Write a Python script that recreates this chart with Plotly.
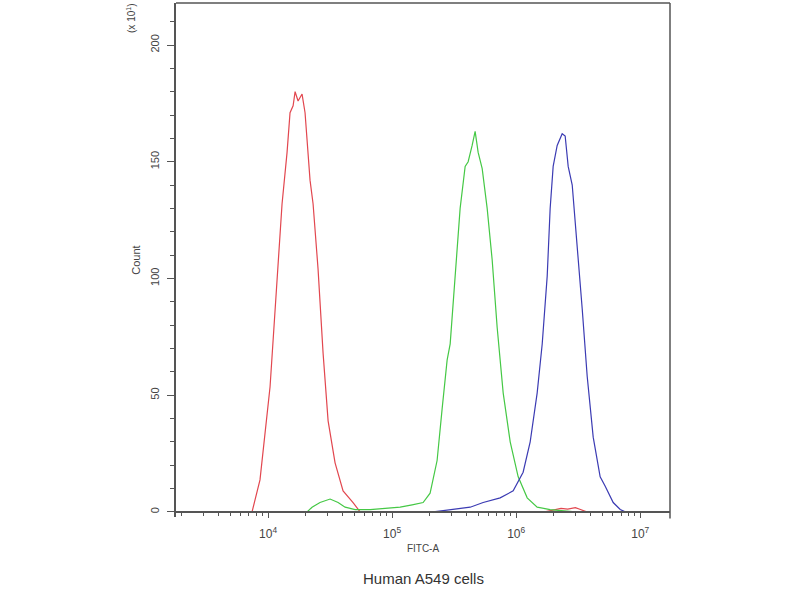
import plotly.graph_objects as go

# ---- data (FITC-A intensity vs count in units of 10^1) ----
red_x = [7430, 8610, 10380, 11830, 12970, 14230, 15040, 15920, 16520, 17460, 18800,
         19870, 21810, 23060, 25300, 27770, 30480, 34690, 40250, 48450, 55200,
         None, 1700000, 2000000, 2300000, 2600000, 3000000, 3300000, 3700000]
red_y = [0, 13.7, 53.6, 98, 132, 154, 171, 174, 180, 176, 179,
         171, 142, 132, 104, 68, 39, 21, 9, 4, 0,
         None, 0, 0.8, 1.5, 1.2, 1.8, 1, 0]

green_x = [20650, 22630, 26230, 31620, 36700, 41790, 50330, 66500, 87850, 116100,
           145000, 177800, 202400, 230500, 252900, 277600, 293800, 322300, 353400,
           387900, 410200, 441700, 466900, 493800, 532200, 583800, 640500, 702800,
           785700, 895000, 1038000, 1227000, 1477000, 1879000, 2483000, 2990000]
green_y = [0, 2, 4, 5.5, 4, 2, 1, 1, 1.5, 2,
           3, 4, 8, 22, 44, 65, 72, 101, 130,
           148, 150, 157, 163, 154, 147, 130, 108, 79,
           51, 30, 15, 6, 2, 1, 0.5, 0]

blue_x = [214400, 310600, 425800, 541900, 743000, 946000, 1138000, 1297000, 1477000,
          1622000, 1779000, 1879000, 1987000, 2141000, 2349000, 2483000, 2626000,
          2830000, 3105000, 3406000, 3738000, 4178000, 4754000, 5222000, 6056000,
          6900000, 7570000]
blue_y = [0, 1, 2, 4, 6, 9, 17, 30, 51,
          72, 101, 130, 148, 157, 162, 161, 148,
          140, 115, 87, 58, 32, 15, 11, 4,
          1, 0]

x_tick_vals = [1e4, 1e5, 1e6, 1e7]
x_tick_text = ["10<sup>4</sup>", "10<sup>5</sup>", "10<sup>6</sup>", "10<sup>7</sup>"]
y_tick_vals = [0, 50, 100, 150, 200]

x_title = "FITC-A"
y_title = "Count"
y_unit = "(x 10<sup>1</sup>)"
chart_title = "Human A549 cells"

# ---- figure ----
AX = "#555555"
TXT = "#444444"
FONT = "Liberation Sans"

fig = go.Figure()
fig.add_trace(go.Scatter(x=red_x, y=red_y, mode="lines", connectgaps=False,
                         line=dict(color="#e2474f", width=1.2), showlegend=False))
fig.add_trace(go.Scatter(x=green_x, y=green_y, mode="lines",
                         line=dict(color="#45c845", width=1.2), showlegend=False))
fig.add_trace(go.Scatter(x=blue_x, y=blue_y, mode="lines",
                         line=dict(color="#3b3bb3", width=1.2), showlegend=False))

minor_x = [m * 10 ** k for k in range(3, 7) for m in range(2, 10)]

W, H = 800, 600
L, R, T, B = 176, 670, 3, 517
y_lo, y_hi = -2.2, 218
zero_pos = (0 - y_lo) / (y_hi - y_lo)

fig.update_layout(
    width=W, height=H,
    margin=dict(l=L, r=W - R, t=T, b=H - B, autoexpand=False),
    plot_bgcolor="white", paper_bgcolor="white",
    font=dict(family=FONT, color=TXT, size=11),
    xaxis=dict(
        type="log", range=[3.258, 7.24],
        anchor="free", position=zero_pos,
        showline=True, linecolor=AX, linewidth=1.5,
        showgrid=False, zeroline=False,
        tickmode="array", tickvals=x_tick_vals, ticktext=x_tick_text,
        ticks="outside", ticklen=5, tickcolor=AX, tickwidth=1,
        ticklabelstandoff=6,
        tickfont=dict(size=12, color=TXT),
        minor=dict(tickmode="array", tickvals=minor_x, ticks="outside",
                   ticklen=3, tickcolor=AX, tickwidth=1, showgrid=False),
        title=dict(text=x_title, font=dict(size=10, color=TXT), standoff=4),
    ),
    yaxis=dict(
        range=[y_lo, y_hi],
        showline=True, linecolor=AX, linewidth=1.5,
        showgrid=False, zeroline=False,
        tickmode="array", tickvals=y_tick_vals, tickangle=-90,
        ticks="outside", ticklen=7, tickcolor=AX, tickwidth=1,
        ticklabelstandoff=4,
        tickfont=dict(size=11, color=TXT),
        minor=dict(dtick=10, ticks="outside", ticklen=4, tickcolor=AX,
                   tickwidth=1, showgrid=False),
        title=dict(text=y_title, font=dict(size=11, color=TXT), standoff=6),
    ),
    shapes=[
        dict(type="line", xref="paper", yref="paper", x0=0, x1=1, y0=1, y1=1,
             line=dict(color=AX, width=1.5)),
        dict(type="line", xref="paper", yref="paper", x0=1, x1=1, y0=-0.003, y1=1,
             line=dict(color=AX, width=1.5)),
    ],
    annotations=[
        dict(text=y_unit, xref="paper", yref="paper", x=-0.09, y=0.97,
             xanchor="center", yanchor="middle", textangle=-90, showarrow=False,
             font=dict(size=10, color=TXT)),
        dict(text=chart_title, xref="paper", yref="paper", x=0.5, y=-0.12,
             xanchor="center", yanchor="middle", showarrow=False,
             font=dict(size=15, color="#333333", family="Liberation Sans Narrow, Liberation Sans")),
    ],
)

fig.write_html("out.html",
               config={"displayModeBar": False},
               post_script="document.body.style.margin='0';document.body.style.padding='0';")
